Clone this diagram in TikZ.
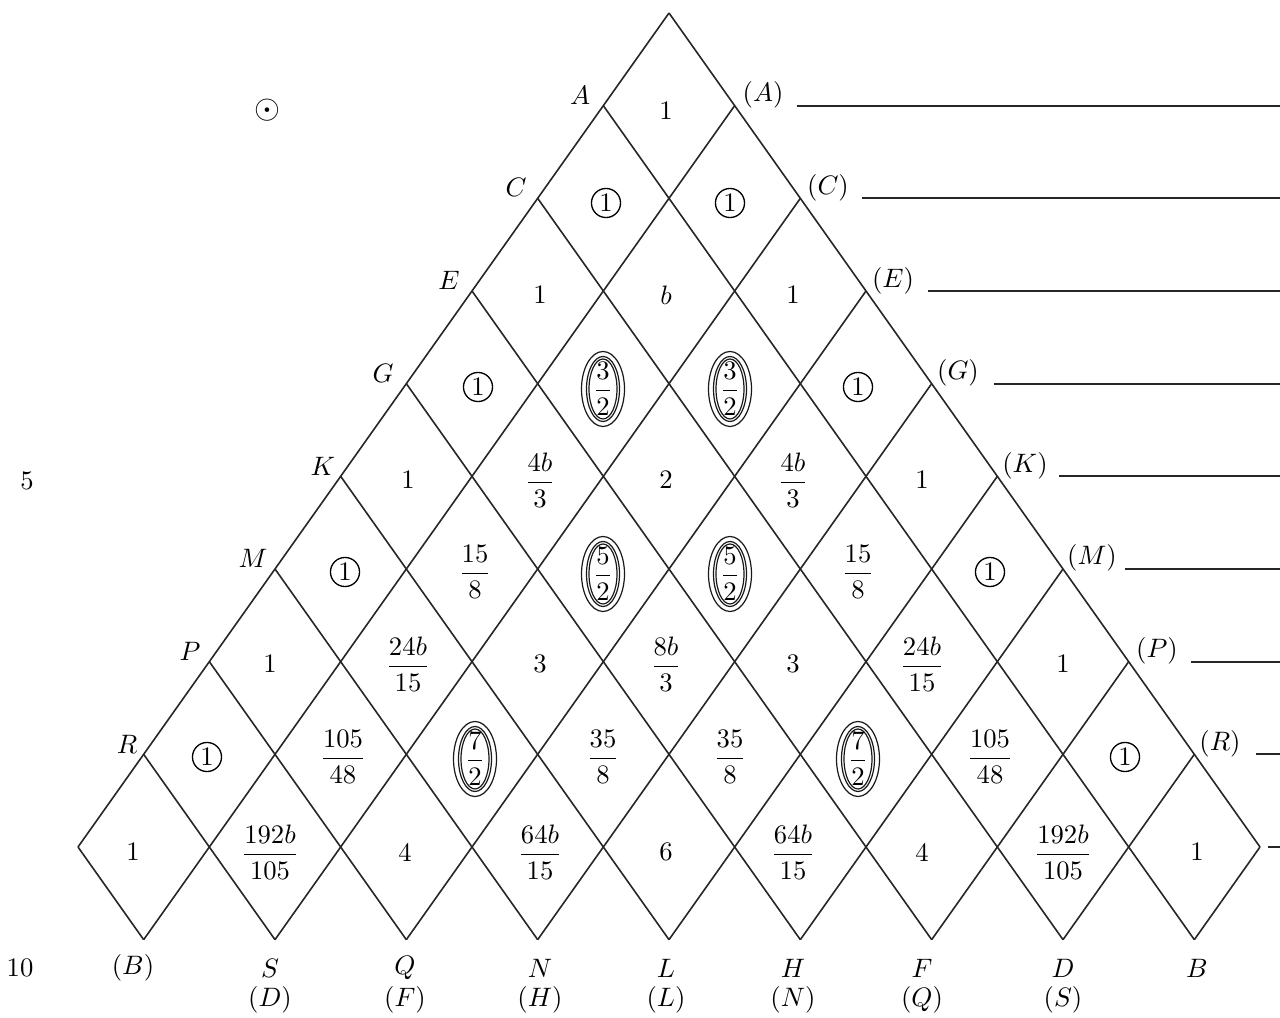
\documentclass[tikz,border=0pt]{standalone}
\usepackage{amsmath}
\begin{document}
\begin{tikzpicture}[x=0.375pt,y=-0.375pt,
  grid/.style={line width=0.6pt,draw=black!85},
  val/.style={inner sep=0pt},
  one/.style={circle,draw,line width=0.5pt,inner sep=0pt,minimum size=10.9pt},
  lab/.style={inner sep=0pt},
  rule/.style={line width=0.7pt,draw=black!85},
  oval/.style={line width=0.45pt,draw=black!90}]
\useasboundingbox (0,0) rectangle (1280,1018);
% lattice points
\foreach \i in {0,...,9}{\foreach \j in {0,...,9}{
  \coordinate (p\i\j) at ({669+(\j-\i)*65.667},{13+(\i+\j)*92.667});}}
% lattice lines
\draw[grid] (p00) -- (p09);
\draw[grid] (p00) -- (p90);
\foreach \i in {1,...,9}{\pgfmathtruncatemacro\e{10-\i}
  \draw[grid] (p\i0) -- (p\i\e);
  \draw[grid] (p0\i) -- (p\e\i);}
% right rules
\foreach \j in {1,...,8}{
  \coordinate (rs\j) at ({669+65.667*\j+62},{13+92.667*\j});
  \coordinate (re\j) at ({1280},{13+92.667*\j});
  \draw[rule] (rs\j) -- (re\j);}
\coordinate (rs9) at (1268,847);
\coordinate (re9) at (1280,847);
\draw[rule] (rs9) -- (re9);
% left labels
\node[lab] (lA) at (580,95) {$A$};
\node[lab] (lC) at (516,187) {$C$};
\node[lab] (lE) at (449,280) {$E$};
\node[lab] (lG) at (383,373) {$G$};
\node[lab] (lK) at (323,466) {$K$};
\node[lab] (lM) at (253,558) {$M$};
\node[lab] (lP) at (190,651) {$P$};
\node[lab] (lR) at (127,744) {$R$};
% right labels
\node[lab] (rA) at (763,95) {$(A)$};
\node[lab] (rC) at (828,188) {$(C)$};
\node[lab] (rE) at (893,281) {$(E)$};
\node[lab] (rG) at (958,373) {$(G)$};
\node[lab] (rK) at (1025,466) {$(K)$};
\node[lab] (rM) at (1092,558) {$(M)$};
\node[lab] (rP) at (1157,651) {$(P)$};
\node[lab] (rR) at (1220,744) {$(R)$};
% bottom labels
\node[lab] (b1) at (133,968) {$(B)$};
\node[lab] (b2) at (270,968) {$S$};
\node[lab] (b3) at (405,968) {$Q$};
\node[lab] (b4) at (540,968) {$N$};
\node[lab] (b5) at (666,968) {$L$};
\node[lab] (b6) at (793,968) {$H$};
\node[lab] (b7) at (922,968) {$F$};
\node[lab] (b8) at (1063,968) {$D$};
\node[lab] (b9) at (1197,968) {$B$};
\node[lab] (c2) at (270,1000) {$(D)$};
\node[lab] (c3) at (405,1000) {$(F)$};
\node[lab] (c4) at (540,1000) {$(H)$};
\node[lab] (c5) at (666,1000) {$(L)$};
\node[lab] (c6) at (793,1000) {$(N)$};
\node[lab] (c7) at (922,1000) {$(Q)$};
\node[lab] (c8) at (1063,1000) {$(S)$};
% margin
\node[lab] (m5) at (27,481) {5};
\node[lab] (m10) at (20,968) {10};
\node[lab,scale=1.25] (odot) at (267,110) {$\odot$};
% row 1
\node[val] (n11) at (666,111) {1};
% row 2
\node[one] (n21) at (606,203) {1};
\node[one] (n22) at (730,203) {1};
% row 3
\node[val] (n31) at (540,295) {1};
\node[val] (n32) at (666,295) {$b$};
\node[val] (n33) at (793,295) {1};
% row 4
\node[one] (n41) at (478,387) {1};
\node[val] (n42) at (603,389) {$\dfrac{3}{2}$};
\node[val] (n43) at (730,389) {$\dfrac{3}{2}$};
\node[one] (n44) at (858,387) {1};
% row 5
\node[val] (n51) at (408,480) {1};
\node[val] (n52) at (540,480) {$\dfrac{4b}{3}$};
\node[val] (n53) at (666,480) {2};
\node[val] (n54) at (793,480) {$\dfrac{4b}{3}$};
\node[val] (n55) at (922,480) {1};
% row 6
\node[one] (n61) at (345,572) {1};
\node[val] (n62) at (475,572) {$\dfrac{15}{8}$};
\node[val] (n63) at (603,574) {$\dfrac{5}{2}$};
\node[val] (n64) at (730,574) {$\dfrac{5}{2}$};
\node[val] (n65) at (858,572) {$\dfrac{15}{8}$};
\node[one] (n66) at (990,572) {1};
% row 7
\node[val] (n71) at (270,664) {1};
\node[val] (n72) at (408,664) {$\dfrac{24b}{15}$};
\node[val] (n73) at (540,664) {3};
\node[val] (n74) at (666,664) {$\dfrac{8b}{3}$};
\node[val] (n75) at (793,664) {3};
\node[val] (n76) at (922,664) {$\dfrac{24b}{15}$};
\node[val] (n77) at (1063,664) {1};
% row 8
\node[one] (n81) at (207,757) {1};
\node[val] (n82) at (343,757) {$\dfrac{105}{48}$};
\node[val] (n83) at (475,759) {$\dfrac{7}{2}$};
\node[val] (n84) at (603,757) {$\dfrac{35}{8}$};
\node[val] (n85) at (730,757) {$\dfrac{35}{8}$};
\node[val] (n86) at (858,759) {$\dfrac{7}{2}$};
\node[val] (n87) at (990,757) {$\dfrac{105}{48}$};
\node[one] (n88) at (1125,757) {1};
% row 9
\node[val] (n91) at (133,852) {1};
\node[val] (n92) at (270,852) {$\dfrac{192b}{105}$};
\node[val] (n93) at (405,852) {4};
\node[val] (n94) at (540,852) {$\dfrac{64b}{15}$};
\node[val] (n95) at (666,852) {6};
\node[val] (n96) at (793,852) {$\dfrac{64b}{15}$};
\node[val] (n97) at (922,852) {4};
\node[val] (n98) at (1063,852) {$\dfrac{192b}{105}$};
\node[val] (n99) at (1197,852) {1};
% triple ovals
\foreach \n in {n42,n43,n63,n64,n83,n86}{
  \draw[oval] (\n.center) ellipse [x radius=21.5, y radius=37.5];
  \draw[oval] (\n.center) ellipse [x radius=16.5, y radius=32.5];
  \draw[oval] (\n.center) ellipse [x radius=14, y radius=30];}
\end{tikzpicture}
\end{document}
